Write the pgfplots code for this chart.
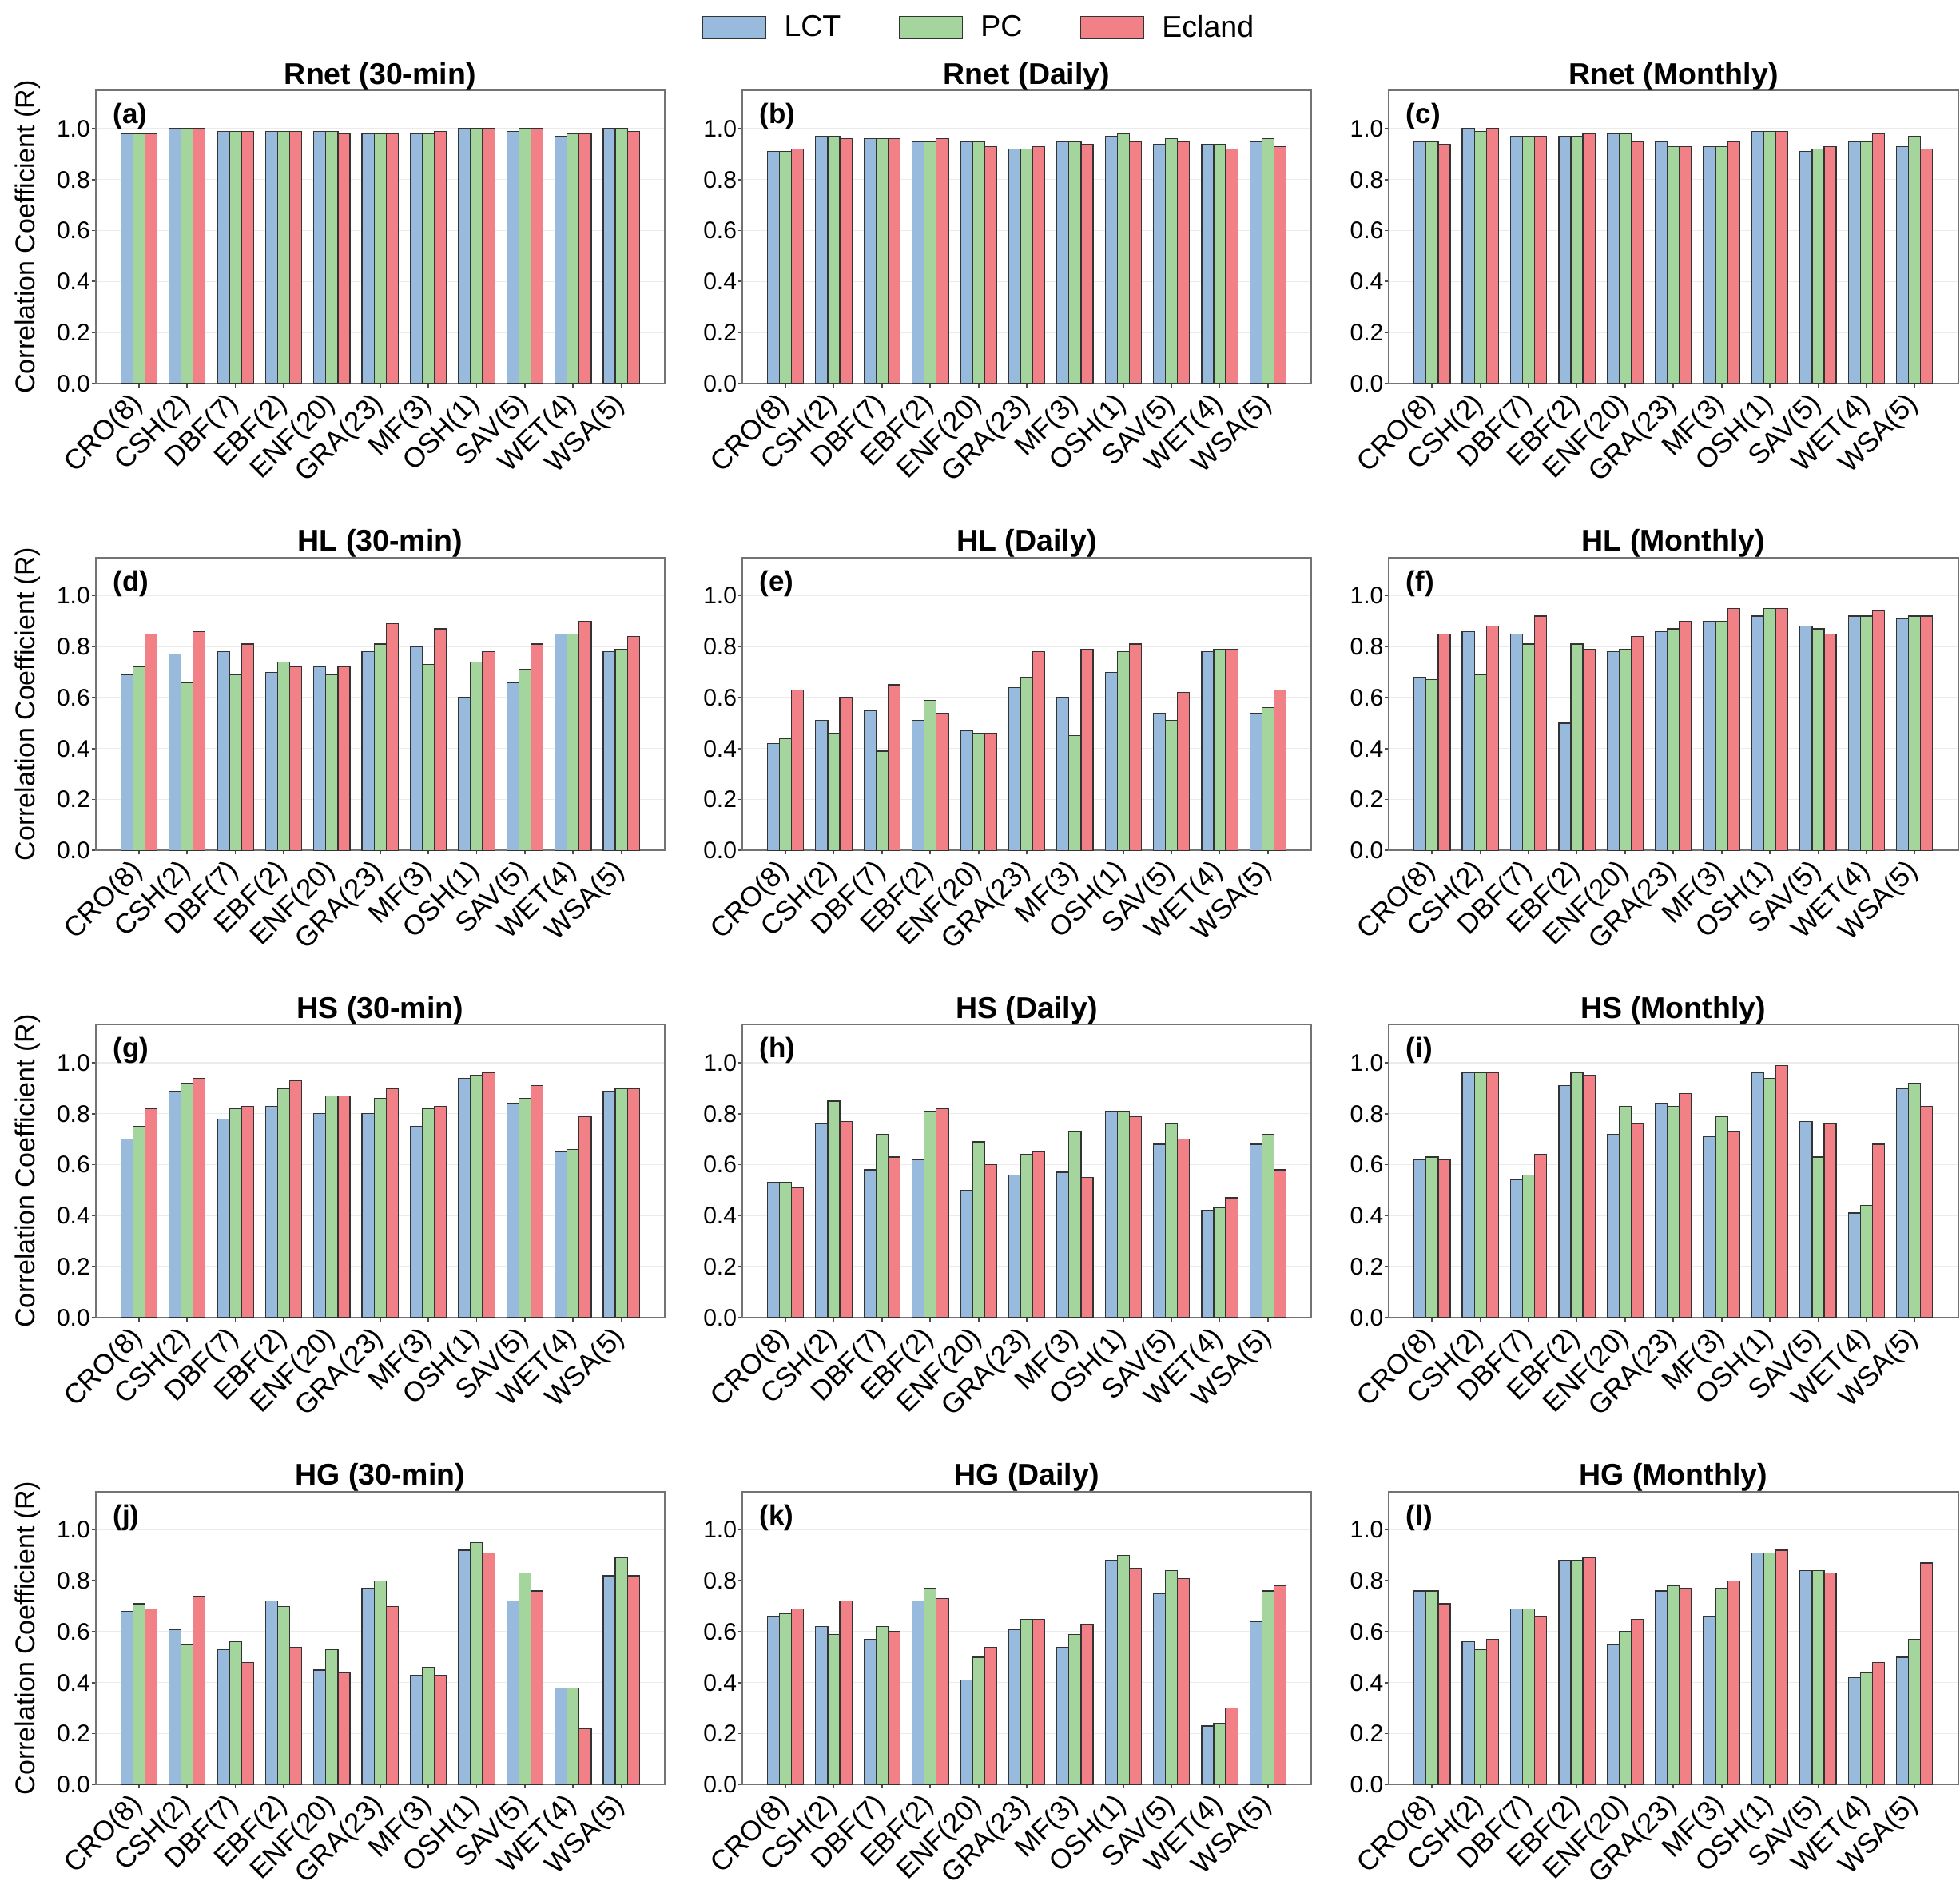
\documentclass[border=0pt]{standalone}
\usepackage{fontspec}
\setmainfont{Liberation Sans}
\usepackage{pgfplots}
\usepackage{pgfplotstable}
\pgfplotsset{compat=1.18}

\definecolor{lct}{RGB}{152,186,221}
\definecolor{pcc}{RGB}{164,213,157}
\definecolor{ecl}{RGB}{241,129,134}

% columns: category index, LCT, PC, Ecland
\pgfplotstableread{
x lct pc ecl
0 0.98 0.98 0.98
1 1.00 1.00 1.00
2 0.99 0.99 0.99
3 0.99 0.99 0.99
4 0.99 0.99 0.98
5 0.98 0.98 0.98
6 0.98 0.98 0.99
7 1.00 1.00 1.00
8 0.99 1.00 1.00
9 0.97 0.98 0.98
10 1.00 1.00 0.99
}\tabA
\pgfplotstableread{
x lct pc ecl
0 0.91 0.91 0.92
1 0.97 0.97 0.96
2 0.96 0.96 0.96
3 0.95 0.95 0.96
4 0.95 0.95 0.93
5 0.92 0.92 0.93
6 0.95 0.95 0.94
7 0.97 0.98 0.95
8 0.94 0.96 0.95
9 0.94 0.94 0.92
10 0.95 0.96 0.93
}\tabB
\pgfplotstableread{
x lct pc ecl
0 0.95 0.95 0.94
1 1.00 0.99 1.00
2 0.97 0.97 0.97
3 0.97 0.97 0.98
4 0.98 0.98 0.95
5 0.95 0.93 0.93
6 0.93 0.93 0.95
7 0.99 0.99 0.99
8 0.91 0.92 0.93
9 0.95 0.95 0.98
10 0.93 0.97 0.92
}\tabC
\pgfplotstableread{
x lct pc ecl
0 0.69 0.72 0.85
1 0.77 0.66 0.86
2 0.78 0.69 0.81
3 0.70 0.74 0.72
4 0.72 0.69 0.72
5 0.78 0.81 0.89
6 0.80 0.73 0.87
7 0.60 0.74 0.78
8 0.66 0.71 0.81
9 0.85 0.85 0.90
10 0.78 0.79 0.84
}\tabD
\pgfplotstableread{
x lct pc ecl
0 0.42 0.44 0.63
1 0.51 0.46 0.60
2 0.55 0.39 0.65
3 0.51 0.59 0.54
4 0.47 0.46 0.46
5 0.64 0.68 0.78
6 0.60 0.45 0.79
7 0.70 0.78 0.81
8 0.54 0.51 0.62
9 0.78 0.79 0.79
10 0.54 0.56 0.63
}\tabE
\pgfplotstableread{
x lct pc ecl
0 0.68 0.67 0.85
1 0.86 0.69 0.88
2 0.85 0.81 0.92
3 0.50 0.81 0.79
4 0.78 0.79 0.84
5 0.86 0.87 0.90
6 0.90 0.90 0.95
7 0.92 0.95 0.95
8 0.88 0.87 0.85
9 0.92 0.92 0.94
10 0.91 0.92 0.92
}\tabF
\pgfplotstableread{
x lct pc ecl
0 0.70 0.75 0.82
1 0.89 0.92 0.94
2 0.78 0.82 0.83
3 0.83 0.90 0.93
4 0.80 0.87 0.87
5 0.80 0.86 0.90
6 0.75 0.82 0.83
7 0.94 0.95 0.96
8 0.84 0.86 0.91
9 0.65 0.66 0.79
10 0.89 0.90 0.90
}\tabG
\pgfplotstableread{
x lct pc ecl
0 0.53 0.53 0.51
1 0.76 0.85 0.77
2 0.58 0.72 0.63
3 0.62 0.81 0.82
4 0.50 0.69 0.60
5 0.56 0.64 0.65
6 0.57 0.73 0.55
7 0.81 0.81 0.79
8 0.68 0.76 0.70
9 0.42 0.43 0.47
10 0.68 0.72 0.58
}\tabH
\pgfplotstableread{
x lct pc ecl
0 0.62 0.63 0.62
1 0.96 0.96 0.96
2 0.54 0.56 0.64
3 0.91 0.96 0.95
4 0.72 0.83 0.76
5 0.84 0.83 0.88
6 0.71 0.79 0.73
7 0.96 0.94 0.99
8 0.77 0.63 0.76
9 0.41 0.44 0.68
10 0.90 0.92 0.83
}\tabI
\pgfplotstableread{
x lct pc ecl
0 0.68 0.71 0.69
1 0.61 0.55 0.74
2 0.53 0.56 0.48
3 0.72 0.70 0.54
4 0.45 0.53 0.44
5 0.77 0.80 0.70
6 0.43 0.46 0.43
7 0.92 0.95 0.91
8 0.72 0.83 0.76
9 0.38 0.38 0.22
10 0.82 0.89 0.82
}\tabJ
\pgfplotstableread{
x lct pc ecl
0 0.66 0.67 0.69
1 0.62 0.59 0.72
2 0.57 0.62 0.60
3 0.72 0.77 0.73
4 0.41 0.50 0.54
5 0.61 0.65 0.65
6 0.54 0.59 0.63
7 0.88 0.90 0.85
8 0.75 0.84 0.81
9 0.23 0.24 0.30
10 0.64 0.76 0.78
}\tabK
\pgfplotstableread{
x lct pc ecl
0 0.76 0.76 0.71
1 0.56 0.53 0.57
2 0.69 0.69 0.66
3 0.88 0.88 0.89
4 0.55 0.60 0.65
5 0.76 0.78 0.77
6 0.66 0.77 0.80
7 0.91 0.91 0.92
8 0.84 0.84 0.83
9 0.42 0.44 0.48
10 0.50 0.57 0.87
}\tabL

\pgfplotsset{
  panel/.style={
    scale only axis, width=285pt, height=146.6pt,
    anchor=north west,
    xmin=-0.9, xmax=10.9, ymin=0, ymax=1.15,
    enlargelimits=false,
    ybar, bar width=0.25,
    xtick={0,...,10},
    xticklabels={CRO(8),CSH(2),DBF(7),EBF(2),ENF(20),GRA(23),MF(3),OSH(1),SAV(5),WET(4),WSA(5)},
    ytick={0,0.2,0.4,0.6,0.8,1.0},
    yticklabel style={/pgf/number format/fixed, /pgf/number format/fixed zerofill,
      /pgf/number format/precision=1},
    /pgf/number format/assume math mode=true,
    x tick label style={xshift=-5pt, rotate=45, anchor=north east, inner sep=1pt,
      font=\fontsize{14}{14}\selectfont},
    y tick label style={inner sep=0.5pt, font=\fontsize{12}{12}\selectfont},
    tick align=outside, xtick pos=bottom, ytick pos=left,
    major tick length=2pt,
    tick style={black!70, line width=0.7pt},
    axis line style={black!55, line width=0.8pt},
    ymajorgrids, major grid style={black!8, line width=0.5pt},
    title style={font=\bfseries\fontsize{15}{15}\selectfont, yshift=-9.5pt},
    ylabel style={font=\fontsize{13.6}{13.6}\selectfont,
      at={(axis description cs:-0.1186,0.5)}, anchor=center},
    legend image code/.code={\draw[#1] (0pt,-5.5pt) rectangle (31.5pt,5.5pt);},
  },
  lbar/.style={fill=lct, draw=black!80, line width=0.5pt, bar shift=-0.25},
  pbar/.style={fill=pcc, draw=black!80, line width=0.5pt, bar shift=0},
  ebar/.style={fill=ecl, draw=black!80, line width=0.5pt, bar shift=0.25},
}

% #1 extra options, #2 x, #3 y, #4 table, #5 title, #6 panel letter
\newcommand{\panel}[6][]{%
  \begin{axis}[panel, at={(#2,#3)}, title={#5}, #1]
    \addplot[lbar] table[x=x, y=lct] {#4};
    \addplot[pbar] table[x=x, y=pc] {#4};
    \addplot[ebar] table[x=x, y=ecl] {#4};
    \node[anchor=north west, inner sep=0pt, font=\bfseries\fontsize{14}{14}\selectfont]
      at (axis description cs:0.03,0.957) {(#6)};
  \end{axis}}

\begin{document}
\begin{tikzpicture}
\path[use as bounding box] (0,0) rectangle (981.2pt,-945.2pt);

\panel[ylabel={Correlation Coefficient (R)}]{47.8pt}{-45.3pt}{\tabA}{Rnet (30-min)}{a}
\panel[legend entries={LCT,PC,Ecland},
  legend style={at={(axis description cs:0.418,1.215)}, anchor=center,
    legend columns=3, draw=none, fill=none, font=\fontsize{15}{15}\selectfont,
    /tikz/every odd column/.append style={column sep=7pt},
    /tikz/every even column/.append style={column sep=27pt}}]
  {371.5pt}{-45.3pt}{\tabB}{Rnet (Daily)}{b}
\panel{695.2pt}{-45.3pt}{\tabC}{Rnet (Monthly)}{c}

\panel[ylabel={Correlation Coefficient (R)}]{47.8pt}{-279.1pt}{\tabD}{HL (30-min)}{d}
\panel{371.5pt}{-279.1pt}{\tabE}{HL (Daily)}{e}
\panel{695.2pt}{-279.1pt}{\tabF}{HL (Monthly)}{f}

\panel[ylabel={Correlation Coefficient (R)}]{47.8pt}{-512.9pt}{\tabG}{HS (30-min)}{g}
\panel{371.5pt}{-512.9pt}{\tabH}{HS (Daily)}{h}
\panel{695.2pt}{-512.9pt}{\tabI}{HS (Monthly)}{i}

\panel[ylabel={Correlation Coefficient (R)}]{47.8pt}{-746.7pt}{\tabJ}{HG (30-min)}{j}
\panel{371.5pt}{-746.7pt}{\tabK}{HG (Daily)}{k}
\panel{695.2pt}{-746.7pt}{\tabL}{HG (Monthly)}{l}
\end{tikzpicture}
\end{document}
